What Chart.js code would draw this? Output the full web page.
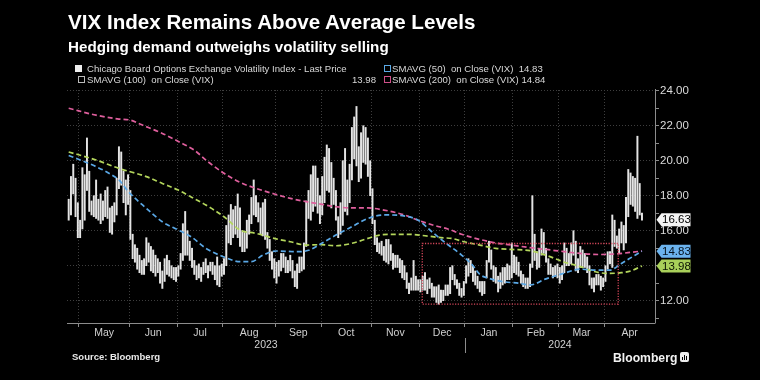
<!DOCTYPE html>
<html><head><meta charset="utf-8">
<script src="https://cdn.jsdelivr.net/npm/chart.js@4.4.1/dist/chart.umd.min.js"></script>
<style>
html,body{margin:0;padding:0;background:#000;}
#wrap{position:relative;width:760px;height:380px;background:#000;overflow:hidden;}
#c{position:absolute;left:0;top:0;}
.t{position:absolute;white-space:nowrap;font-family:"Liberation Sans",Arial,sans-serif;line-height:1;}
.leg{font-size:9.6px;color:#d8d8d8;}
.ic{position:absolute;width:5px;height:5px;border:1px solid #bbb;}
</style></head><body>
<div id="wrap">
<canvas id="c" width="760" height="380"></canvas>
<div class="t" style="left:68px;top:12px;font-size:20.6px;font-weight:bold;color:#fff;">VIX Index Remains Above Average Levels</div>
<div class="t" style="left:68px;top:38.5px;font-size:15.2px;font-weight:bold;color:#fff;">Hedging demand outweighs volatility selling</div>
<div class="ic" style="left:75px;top:65px;background:#eee;border-color:#eee;"></div>
<div class="t leg" style="left:87px;top:63.5px;">Chicago Board Options Exchange Volatility Index - Last Price</div>
<div class="ic" style="left:384px;top:65px;border-color:#5aa9e6;"></div>
<div class="t leg" style="left:392px;top:63.5px;">SMAVG (50)&nbsp; on Close (VIX)&nbsp; <span id="lv50"></span></div>
<div class="ic" style="left:78px;top:76px;border-color:#bbb;"></div>
<div class="t leg" style="left:87px;top:74.5px;">SMAVG (100)&nbsp; on Close (VIX)</div>
<div class="t leg" id="lv100" style="left:352px;top:74.5px;"></div>
<div class="ic" style="left:384px;top:76px;border-color:#d0508a;"></div>
<div class="t leg" style="left:392px;top:74.5px;">SMAVG (200)&nbsp; on Close (VIX) <span id="lv200"></span></div>
<div class="t" style="left:72px;top:352px;font-size:9.5px;font-weight:bold;color:#e8e8e8;">Source: Bloomberg</div>
<div class="t" style="left:613px;top:351.5px;font-size:12.2px;font-weight:bold;color:#f2f2f2;">Bloomberg</div>
<div style="position:absolute;left:680px;top:352px;width:9px;height:10px;background:#eee;border-radius:2px;">
  <div style="position:absolute;left:2px;top:5px;width:1px;height:3px;background:#000;"></div>
  <div style="position:absolute;left:4px;top:3px;width:1px;height:5px;background:#000;"></div>
  <div style="position:absolute;left:6px;top:4px;width:1px;height:4px;background:#000;"></div>
</div>
</div>
<script>
// ---- data (trading-day index 0 = 24 Apr 2023) ----
const monthLabels = ['May','Jun','Jul','Aug','Sep','Oct','Nov','Dec','Jan','Feb','Mar','Apr'];
const monthStartIdx = [5,27,48,68,91,111,133,154,174,195,215,235];
const yearLabels = ['2023','2024'];
const yearStartIdx = [0,174];
const yTickValues = [11,12,13,14,15,16,17,18,19,20,21,22,23,24];

const vixHigh = [
17.8,19.1,19.8,19.0,17.6,
16.6,19.6,19.2,21.3,19.4,17.7,18.0,18.9,17.8,18.1,17.7,18.3,18.5,17.3,17.4,17.6,19.0,20.8,20.5,19.4,18.9,19.2,
18.3,15.8,15.2,15.0,14.6,14.3,14.4,15.6,15.3,15.1,14.9,14.6,14.4,14.2,13.7,14.4,14.6,14.3,14.0,13.9,13.9,
14.0,14.7,16.4,17.1,16.0,15.4,15.0,14.3,14.0,14.1,13.9,14.2,14.4,14.0,14.2,14.2,14.0,14.5,14.0,14.1,
14.4,16.3,16.9,17.5,17.2,17.4,18.1,17.3,16.0,15.9,16.6,16.9,17.9,18.9,18.0,17.6,17.3,17.6,17.8,15.9,15.5,14.8,14.4,
14.2,14.3,14.7,14.7,14.5,14.3,14.6,14.3,13.7,14.1,14.5,14.5,15.3,17.7,18.3,19.2,19.7,19.7,19.0,18.0,
19.1,20.2,20.9,20.7,19.9,19.0,18.3,16.8,17.6,20.0,20.7,18.9,19.8,21.9,22.5,23.1,20.8,21.6,22.0,21.9,21.3,20.0,
18.4,16.6,15.6,15.3,15.4,15.1,15.5,15.5,15.2,14.7,14.6,14.6,14.4,14.3,14.0,13.6,13.0,13.3,14.3,13.4,13.2,
13.2,13.4,13.6,13.2,13.3,13.0,12.8,12.8,12.9,12.6,12.6,12.9,12.9,13.9,14.0,13.5,13.2,13.0,12.7,13.1,
14.0,14.4,14.3,14.0,13.7,13.4,13.1,13.1,13.1,14.3,15.4,14.9,14.0,13.9,13.4,13.6,13.9,13.9,14.1,14.0,15.3,
14.6,14.5,14.2,13.7,13.5,13.3,13.3,14.1,18.0,15.8,14.8,15.0,16.1,15.9,15.0,14.4,14.1,13.9,14.0,14.1,
13.9,14.0,15.3,15.0,14.7,15.3,16.0,15.4,14.4,15.1,14.9,14.7,14.5,14.0,13.3,13.3,13.5,13.5,13.4,13.3,
14.0,14.8,14.8,16.9,16.6,15.7,16.1,16.5,16.3,17.9,19.5,19.3,19.1,19.0,21.4,18.7,17.0
];
const vixLow = [
16.6,16.9,18.1,16.8,15.6,
15.6,16.1,16.6,18.3,17.1,16.9,16.8,16.7,16.6,16.4,16.6,16.8,16.7,15.9,15.8,16.5,16.9,18.4,18.6,17.6,16.9,17.5,
15.5,14.4,14.2,13.8,13.6,13.5,13.5,14.0,14.2,13.7,13.6,13.4,13.6,13.0,12.7,13.1,13.5,13.4,13.3,13.2,13.1,
13.4,13.8,14.3,14.6,14.6,14.3,13.9,13.5,13.2,13.3,13.1,13.5,13.6,13.3,13.7,13.5,13.2,12.9,12.8,13.4,
13.5,14.0,15.3,15.2,15.6,15.8,15.6,15.1,14.8,14.8,15.0,15.8,16.4,16.9,16.8,16.5,15.8,15.7,15.5,15.0,14.3,13.8,13.3,
13.0,13.4,13.7,13.9,13.6,13.6,13.7,13.3,12.8,12.7,13.6,13.7,13.8,15.1,16.7,16.6,17.1,17.4,17.0,16.4,
16.9,17.6,18.3,18.2,17.3,17.5,16.6,15.6,15.8,16.3,17.1,16.9,17.6,18.9,20.1,19.7,18.8,19.0,19.9,19.8,19.1,18.0,
16.4,15.2,14.8,14.7,14.6,14.3,14.2,14.1,14.3,13.8,13.9,13.9,13.6,13.3,13.2,12.7,12.4,12.6,12.6,12.6,12.6,
12.5,12.6,12.6,12.4,12.7,12.2,12.2,11.9,11.8,11.9,12.0,12.3,12.3,12.4,13.2,12.9,12.7,12.3,12.2,12.3,
13.0,13.4,13.6,13.1,12.9,12.7,12.5,12.3,12.4,13.3,14.2,13.8,13.1,13.0,12.5,12.7,12.9,13.0,13.2,13.2,13.3,
13.6,13.5,13.4,13.0,12.8,12.7,12.7,12.8,13.9,14.3,13.8,13.9,14.6,14.7,14.2,13.5,13.5,13.3,13.4,13.3,
13.0,13.2,13.6,14.0,14.0,14.1,14.6,13.7,13.6,13.9,13.9,13.9,13.6,12.9,12.7,12.5,12.9,12.9,12.6,12.8,
13.1,13.8,14.1,13.9,15.1,15.0,14.7,15.3,14.9,15.3,16.8,17.5,17.4,17.1,16.7,16.9,16.6
];

const sma50Idx = [0,12,19,22,26,34,41,48,54,60,68,75,80,85,91,100,105,111,117,124,131,138,146,153,159,165,172,177,180,184,190,197,202,209,216,224,231,237,242,248,251];
const sma50 = [20.3,19.66,19.18,18.9,18.25,17.28,16.51,16.04,15.62,15.0,14.5,14.23,14.23,14.6,14.84,14.8,14.88,15.3,15.75,16.23,16.7,16.9,16.86,16.6,15.94,15.3,14.61,14.0,13.5,13.28,13.09,13.0,12.9,13.25,13.53,13.8,13.75,13.75,14.13,14.6,14.83];
const sma100Idx = [0,12,22,34,41,48,54,60,68,75,82,90,97,104,110,117,124,131,136,141,149,156,163,168,173,180,187,194,202,210,217,224,229,236,242,246,251];
const sma100 = [20.5,20.04,19.56,19.09,18.7,18.32,17.9,17.47,16.8,16.04,15.85,15.56,15.37,15.18,15.2,15.14,15.28,15.56,15.75,15.79,15.79,15.71,15.6,15.55,15.37,15.18,14.99,14.93,14.86,14.55,14.2,13.95,13.7,13.56,13.6,13.7,13.98];
const sma200Idx = [0,12,22,27,32,41,48,55,61,68,75,82,90,97,104,111,117,124,131,138,147,153,160,166,172,180,187,194,202,209,216,224,232,240,246,251];
const sma200 = [23.0,22.6,22.38,22.32,22.05,21.56,21.1,20.6,19.94,19.28,18.76,18.42,18.1,17.85,17.66,17.5,17.37,17.3,17.3,17.18,16.9,16.6,16.3,16.1,15.8,15.5,15.3,15.18,15.03,14.93,14.82,14.7,14.64,14.68,14.76,14.84];

const lastValues = [16.63, 14.83, 13.98];      // last price, SMA50, SMA100
const legendValues = {sma50:14.83, sma100:13.98, sma200:14.84};
const highlightBox = [154.8, 240.6, 11.81, 15.27]; // x from, x to, y from, y to

// ---- layout constants ----
const XMIN = -0.74, XMAX = 256.7, YMIN = 10.726, YMAX = 24.04;
const C_PINK = '#df5f9d', C_BLUE = '#5aa8e6', C_GREEN = '#b4d65c';

document.getElementById('lv50').textContent = legendValues.sma50.toFixed(2);
document.getElementById('lv100').textContent = legendValues.sma100.toFixed(2);
document.getElementById('lv200').textContent = legendValues.sma200.toFixed(2);

Chart.defaults.font.family = '"Liberation Sans", Arial, sans-serif';

const monthBounds = monthStartIdx.map(v => v - 0.5);
const monthCenters = monthBounds.map((b, i) => (b + (i + 1 < monthBounds.length ? monthBounds[i + 1] : XMAX)) / 2);
const yearBounds = yearStartIdx.map((v, i) => i === 0 ? XMIN : v - 0.5);
const yearCenters = yearBounds.map((b, i) => (b + (i + 1 < yearBounds.length ? yearBounds[i + 1] : XMAX)) / 2);

const overlay = {
  id: 'overlay',
  afterDatasetsDraw(chart) {
    const {ctx, scales: {x, y}} = chart;
    const bx0 = x.getPixelForValue(highlightBox[0]), bx1 = x.getPixelForValue(highlightBox[1]);
    const by0 = y.getPixelForValue(highlightBox[3]), by1 = y.getPixelForValue(highlightBox[2]);
    ctx.save();
    ctx.strokeStyle = '#d9485c'; ctx.lineWidth = 1.3; ctx.setLineDash([1.2, 1.5]);
    ctx.strokeRect(bx0, by0, bx1 - bx0, by1 - by0);
    ctx.restore();
  },
  afterDraw(chart) {
    const {ctx, chartArea: a, scales: {x, y}} = chart;
    ctx.save();
    ctx.strokeStyle = '#8c8c8c'; ctx.lineWidth = 1;
    ctx.beginPath();
    ctx.moveTo(a.left, a.bottom + 0.5); ctx.lineTo(a.right, a.bottom + 0.5);
    ctx.moveTo(a.right + 0.5, a.top - 1); ctx.lineTo(a.right + 0.5, a.bottom + 0.5);
    const yd = Math.round(x.getPixelForValue(yearBounds[1])) + 0.5;
    ctx.moveTo(yd, a.bottom + 15); ctx.lineTo(yd, a.bottom + 30);
    ctx.stroke();
    const cols = [['#f4f4f4', '#000'], ['#6cb3ee', '#05121f'], ['#a9d05a', '#0c1404']];
    lastValues.forEach((v, i) => {
      const py = y.getPixelForValue(v);
      const x0 = a.right + 1.5;
      ctx.fillStyle = cols[i][0];
      ctx.beginPath();
      ctx.moveTo(x0, py); ctx.lineTo(x0 + 5, py - 6.5); ctx.lineTo(x0 + 34, py - 6.5);
      ctx.lineTo(x0 + 34, py + 6.5); ctx.lineTo(x0 + 5, py + 6.5); ctx.closePath(); ctx.fill();
      ctx.fillStyle = cols[i][1];
      ctx.font = '11.5px "Liberation Sans", Arial, sans-serif';
      ctx.textBaseline = 'middle'; ctx.textAlign = 'left';
      ctx.fillText(v.toFixed(2), x0 + 5.5, py + 0.5);
    });
    ctx.restore();
  }
};

const toPts = (xs, ys) => xs.map((v, i) => ({x: v, y: ys[i]}));
const lineDs = (label, xs, ys, color, order) => ({
  type: 'line', label, data: toPts(xs, ys), borderColor: color, borderWidth: 1.7,
  borderDash: [5, 3], pointRadius: 0, cubicInterpolationMode: 'monotone', fill: false, order
});

new Chart(document.getElementById('c'), {
  type: 'bar',
  data: {
    datasets: [
      {type: 'bar', label: 'VIX', data: vixHigh.map((h, i) => ({x: i, y: [vixLow[i], h]})),
       backgroundColor: '#e4e4e4', borderWidth: 0, barThickness: 1.3, grouped: false, order: 4},
      lineDs('SMA200', sma200Idx, sma200, C_PINK, 3),
      lineDs('SMA100', sma100Idx, sma100, C_GREEN, 2),
      lineDs('SMA50', sma50Idx, sma50, C_BLUE, 1)
    ]
  },
  options: {
    responsive: false, animation: false, devicePixelRatio: 1,
    layout: {padding: {left: 67, right: 55, top: 90, bottom: 29}},
    plugins: {legend: {display: false}, tooltip: {enabled: false}, title: {display: false}},
    scales: {
      x: {
        type: 'linear', axis: 'x', position: 'bottom', min: XMIN, max: XMAX, offset: false,
        afterBuildTicks: s => { s.ticks = monthBounds.map(v => ({value: v})); },
        afterFit: s => { s.height = 4; },
        ticks: {display: false},
        grid: {color: '#3e3e3e', tickColor: '#8c8c8c', tickLength: 4, drawTicks: true, offset: false, tickBorderDash: []},
        border: {display: false, dash: [1, 2]}
      },
      xm: {
        type: 'linear', axis: 'x', position: 'bottom', min: XMIN, max: XMAX, offset: false,
        afterBuildTicks: s => { s.ticks = monthCenters.map(v => ({value: v})); },
        afterFit: s => { s.height = 12; },
        ticks: {color: '#d0d0d0', font: {size: 10.5}, padding: 0, autoSkip: false, maxRotation: 0, minRotation: 0,
                callback: (v, i) => monthLabels[i]},
        grid: {display: false, drawTicks: false}, border: {display: false}
      },
      xy: {
        type: 'linear', axis: 'x', position: 'bottom', min: XMIN, max: XMAX, offset: false,
        afterBuildTicks: s => { s.ticks = yearCenters.map(v => ({value: v})); },
        afterFit: s => { s.height = 12; },
        ticks: {color: '#d0d0d0', font: {size: 10.5}, padding: 0, autoSkip: false, maxRotation: 0, minRotation: 0,
                callback: (v, i) => yearLabels[i]},
        grid: {display: false, drawTicks: false}, border: {display: false}
      },
      y: {
        type: 'linear', position: 'right', min: YMIN, max: YMAX,
        afterBuildTicks: s => { s.ticks = yTickValues.map(v => ({value: v})); },
        afterFit: s => { s.width = 50; },
        ticks: {color: '#dcdcdc', font: {size: 11.5}, padding: 1, autoSkip: false,
                callback: v => (v % 2 === 0 ? v.toFixed(2) : '')},
        grid: {color: c => (c.tick && c.tick.value % 2 === 0) ? '#3e3e3e' : 'rgba(0,0,0,0)',
               tickColor: '#8c8c8c', tickLength: 4, drawTicks: true, tickBorderDash: []},
        border: {display: false, dash: [1, 2]}
      }
    }
  },
  plugins: [overlay]
});
</script>
</body></html>
